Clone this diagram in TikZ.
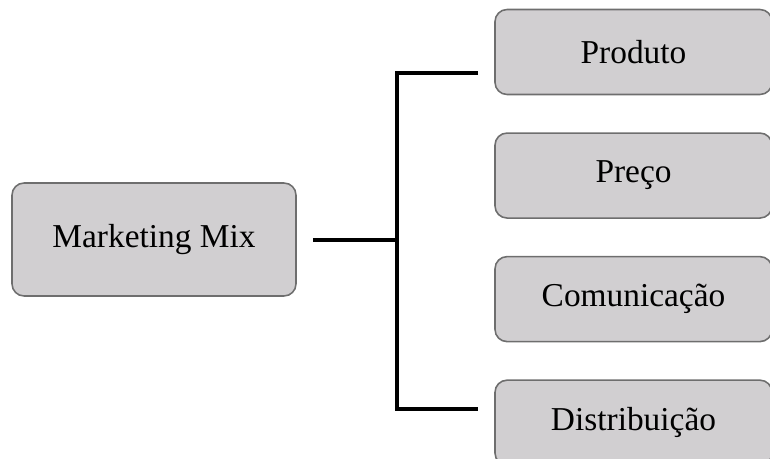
\documentclass[tikz,border=0pt]{standalone}
\usepackage{fontspec}
\setmainfont{Liberation Serif}
\usetikzlibrary{positioning}
\definecolor{boxFill}{RGB}{209,207,209}
\definecolor{boxBorder}{RGB}{110,110,110}
\tikzstyle{diagram} = [x = .02cm, y = -.02cm]
\tikzstyle{mixBox} = [draw=boxBorder, fill=boxFill, rounded corners = .24cm, line width = .9pt, inner sep = 0pt, font=\fontsize{19}{23}\selectfont]
\tikzstyle{mainBox} = [mixBox, minimum width = 5.68cm, minimum height = 2.26cm]
\tikzstyle{itemBox} = [mixBox, minimum width = 5.54cm, minimum height = 1.7cm]
\tikzstyle{branchLine} = [color=black, line width = .08cm]
\begin{document}
\begin{tikzpicture}[diagram, node distance = .74cm]
  \useasboundingbox (0,0) rectangle (770,459);
  \node [mainBox] (mix) at (154,239.5) {Marketing Mix};
  \node [itemBox] (produto) at (633.5,52) {Produto};
  \node [itemBox, below = of produto] (preco) {Preço};
  \node [itemBox, below = of preco] (comunicacao) {Comunicação};
  \node [itemBox, below = of comunicacao] (distribuicao) {Distribuição};
  % fork of the bracket
  \coordinate (fork) at (397,239.5);
  \draw [branchLine] ([xshift = .32cm]mix.east) -- (fork);
  \draw [branchLine] ([xshift = -.32cm, yshift = -.42cm]produto.west) -| (fork)
    |- ([xshift = -.32cm, yshift = .28cm]distribuicao.west);
\end{tikzpicture}
\end{document}
